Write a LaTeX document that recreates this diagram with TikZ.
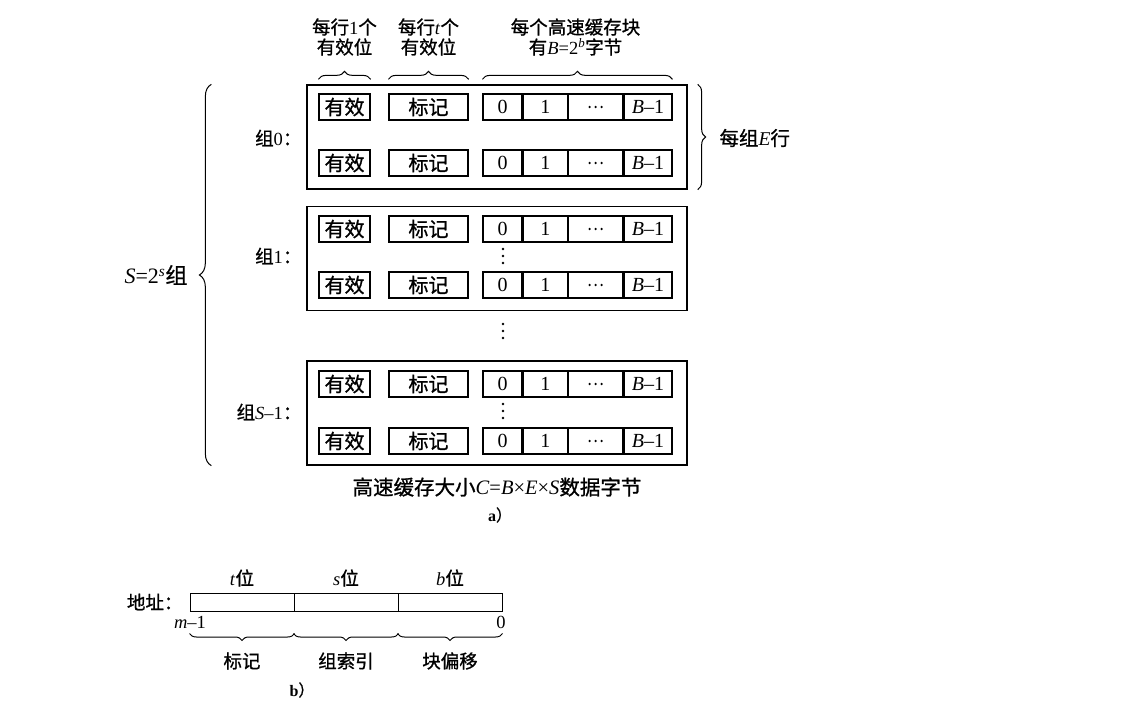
\documentclass[tikz,border=0pt]{standalone}
\usepackage{fontspec}
\setmainfont{Liberation Serif}
\newfontfamily\cjk[FakeBold=1]{Noto Sans CJK SC}
\usetikzlibrary{decorations.pathreplacing, calc}
\newcommand{\zh}[1]{{\cjk #1}}
\newcommand{\vdts}{\tikz[baseline=0pt]{\foreach \k in {0,1,2} \fill (0,\k*7pt) circle (1.3pt);}}

\begin{document}
\begin{tikzpicture}[x=1pt, y=-1pt, font=\fontsize{18.5}{20}\selectfont,
    cell/.style={draw, line width=1.3pt, inner sep=0pt, minimum height=26pt, font=\fontsize{20}{22}\selectfont},
    setbox/.style={draw, line width=1.3pt, inner sep=0pt, minimum width=380pt, minimum height=104pt},
    addr/.style={draw, line width=1pt, inner sep=0pt, minimum width=104pt, minimum height=18pt},
    dts/.style={inner sep=0pt},
    brc/.style={decorate, decoration={brace, amplitude=#1}, line width=1pt},
    brc/.default=8pt]
  \useasboundingbox (0,0) rectangle (1122,706);

  % the three sets
  \node[setbox] (set0) at (497,137) {};
  \node[setbox] (set1) at (497,258.5) {};
  \node[setbox] (setS) at (497,413) {};

  % the lines of each set
  \foreach \r/\y in {a/107, b/163, c/229, d/285, e/384, f/441} {
    \node[cell, minimum width=51pt] (v\r) at (344.5,\y) {\zh{有效}};
    \node[cell, minimum width=79pt] (t\r) at (428.5,\y) {\zh{标记}};
    \node[cell, minimum width=39pt] (z\r) at (502.5,\y) {0};
    \node[cell, minimum width=44pt, anchor=west] (o\r) at (z\r.east) {1};
    \node[cell, minimum width=54pt, anchor=west] (d\r) at (o\r.east) {};
    \foreach \k in {-6,0,6} \fill ($(d\r)+(\k,0)$) circle (1.3pt);
    \node[cell, minimum width=48pt, anchor=west] (B\r) at (d\r.east) {\textit{B}–1};
  }
  \node[dts] (vd1) at (503,256) {\vdts};
  \node[dts] (vd2) at (503,331) {\vdts};
  \node[dts] (vd3) at (503,411) {\vdts};

  \node[anchor=east] (l0) at (305,138) {\zh{组}0\zh{：}};
  \node[anchor=east] (l1) at (305,256) {\zh{组}1\zh{：}};
  \node[anchor=east] (lS) at (305,412) {\zh{组}\textit{S}–1\zh{：}};

  % headings and braces on top
  \node[align=center] (hv) at (344.5,37) {\zh{每行}1\zh{个}\\\zh{有效位}};
  \node[align=center] (ht) at (428.5,37) {\zh{每行}\textit{t}\zh{个}\\\zh{有效位}};
  \node[align=center] (hb) at (575.5,37) {\zh{每个高速缓存块}\\\zh{有}\textit{B}=2\textsuperscript{\textit{b}}\zh{字节}};
  \draw[brc] ($(va.north west)+(0,-14)$) -- ($(va.north east)+(0,-14)$);
  \draw[brc] ($(ta.north west)+(0,-14)$) -- ($(ta.north east)+(0,-14)$);
  \draw[brc] ($(za.north west)+(0,-14)$) -- ($(Ba.north east)+(0,-14)$);

  \draw[brc] ($(set0.north east)+(10,0)$) -- ($(set0.south east)+(10,0)$);
  \node[anchor=west, font=\fontsize{19.5}{21}\selectfont] (lE) at (716,138) {\zh{每组}\textit{E}\zh{行}};
  \draw[brc=12pt] ($(setS.south west)+(-95,0)$) -- ($(set0.north west)+(-95,0)$);
  \node[font=\fontsize{22}{24}\selectfont] (lSS) at (156,275) {\textit{S}=2\textsuperscript{\textit{s}}\zh{组}};

  \node[font=\fontsize{20.5}{22}\selectfont] (cap) at (497,487) {\zh{高速缓存大小}\textit{C}=\textit{B}×\textit{E}×\textit{S}\zh{数据字节}};
  \node[font=\fontsize{16}{18}\selectfont] (capa) at (500,515) {\textbf{a}\zh{）}};

  % address
  \node[addr] (at) at (242,602) {};
  \node[addr] (as) at (346,602) {};
  \node[addr] (ab) at (450,602) {};
  \node[anchor=east] (la) at (186,602) {\zh{地址：}};
  \node (lt) at (242,578) {\textit{t}\zh{位}};
  \node (ls) at (346,578) {\textit{s}\zh{位}};
  \node (lb) at (450,578) {\textit{b}\zh{位}};
  \node (m1) at (190,622) {\textit{m}–1};
  \node (n0) at (501,622) {0};
  \draw[brc=7pt] ($(at.south east)+(0,22)$) -- ($(at.south west)+(0,22)$);
  \draw[brc=7pt] ($(as.south east)+(0,22)$) -- ($(as.south west)+(0,22)$);
  \draw[brc=7pt] ($(ab.south east)+(0,22)$) -- ($(ab.south west)+(0,22)$);
  \node (bt) at (242,661) {\zh{标记}};
  \node (bs) at (346,661) {\zh{组索引}};
  \node (bb) at (450,661) {\zh{块偏移}};
  \node[font=\fontsize{16}{18}\selectfont] (capb) at (302,690) {\textbf{b}\zh{）}};
\end{tikzpicture}
\end{document}
